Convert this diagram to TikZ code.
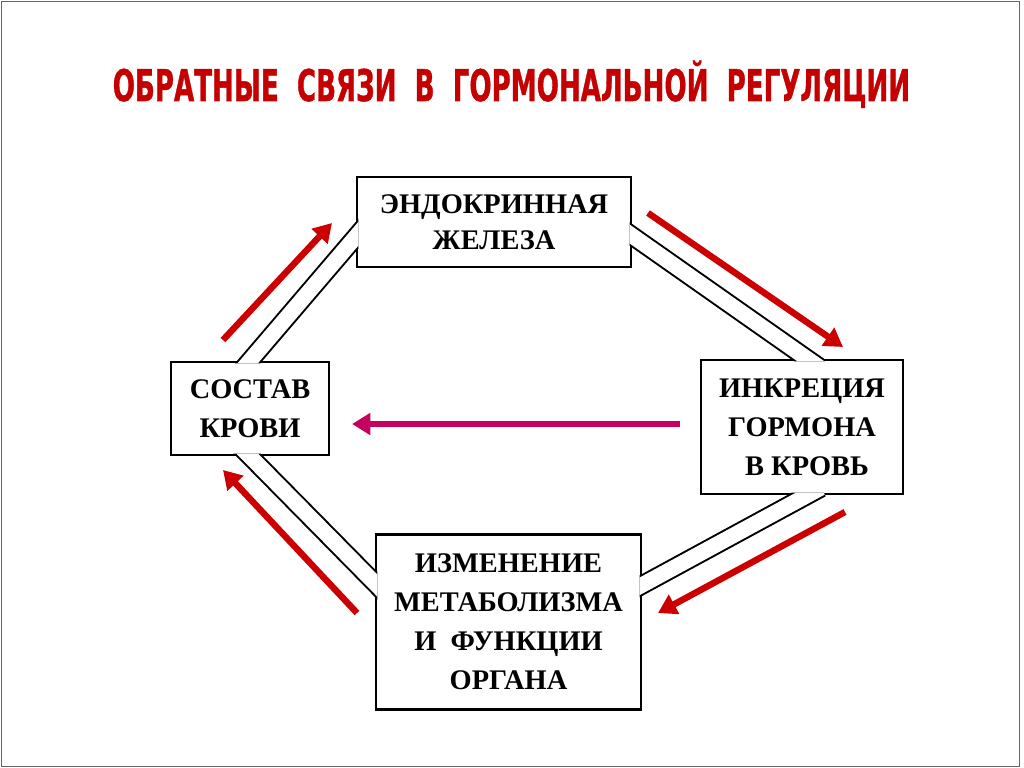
\documentclass[tikz,border=0pt]{standalone}
\usepackage{fontspec}
\setmainfont{Liberation Serif}
\newfontfamily\titlefont{DejaVu Sans}[BoldFeatures={FakeBold=1.2}]
\usepackage{graphicx}
\usetikzlibrary{calc,arrows.meta}
\definecolor{fbred}{RGB}{204,0,0}
\definecolor{fbmag}{RGB}{196,0,96}
\definecolor{ttlred}{RGB}{196,0,0}
\tikzset{
  blk/.style={rectangle,draw=black,line width=2pt,fill=white,inner sep=0pt,align=center,font=\fontsize{20.2}{27.8}\selectfont\bfseries},
  pipe/.style={draw=black,line width=1.4pt,double=white,double distance=11pt},
  fb/.style={-{Triangle[length=13pt,width=15pt]},line width=4.6pt,fbred},
  fbh/.style={fb,fbmag},
  ttl/.style={anchor=base,text=ttlred,font=\titlefont\bfseries\fontsize{31}{31}\selectfont},
}
\newcommand{\boxhole}[1]{([shift={(-2pt,-2pt)}]#1.north east) rectangle ([shift={(2pt,2pt)}]#1.south west)}
\begin{document}
\begin{tikzpicture}[x=0.025cm,y=-0.025cm]
  \useasboundingbox (0,0) rectangle (1024,768);
  \draw[black!60,line width=1.2pt] (1.5,1.5) rectangle (1019.5,766.5);
  \node[ttl] (title) at (511.5,101) {\resizebox{19.93cm}{\height}{ОБРАТНЫЕ\ \ СВЯЗИ\ \ В\ \ ГОРМОНАЛЬНОЙ\ \ РЕГУЛЯЦИИ}};
  % boxes
  \node[blk,minimum width=6.85cm,minimum height=2.25cm,font=\fontsize{20.2}{25.6}\selectfont\bfseries] (gland) at (494,222) {ЭНДОКРИННАЯ\\ЖЕЛЕЗА};
  \node[blk,minimum width=5.05cm,minimum height=3.35cm] (secr) at (802,427) {ИНКРЕЦИЯ\\ГОРМОНА\\\hspace*{0.25cm}В КРОВЬ};
  \node[blk,minimum width=3.95cm,minimum height=2.325cm] (blood) at (250,408.5) {СОСТАВ\\КРОВИ};
  \node[blk,minimum width=6.625cm,minimum height=4.375cm] (meta) at (508.5,622) {ИЗМЕНЕНИЕ\\МЕТАБОЛИЗМА\\И\ \ ФУНКЦИИ\\ОРГАНА};
  % double links, cut off at the inner edge of the boxes
  \coordinate (g1) at ([yshift=-0.375cm]gland.west);  \coordinate (b1) at (blood.north);
  \coordinate (g2) at ([yshift=-0.35cm]gland.east);   \coordinate (s1) at ([xshift=0.125cm]secr.north);
  \coordinate (s2) at ([xshift=0.125cm]secr.south);   \coordinate (m1) at ([yshift=0.93cm]meta.east);
  \coordinate (b2) at (blood.south);                  \coordinate (m2) at ([yshift=0.98cm]meta.west);
  \begin{scope}
    \clip (0,0) rectangle (1024,768) \boxhole{gland} \boxhole{secr} \boxhole{blood} \boxhole{meta};
    \foreach \p/\q in {g1/b1, g2/s1, s2/m1, b2/m2}{
      \draw[pipe] ($(\p)!-0.4cm!(\q)$) -- ($(\q)!-0.4cm!(\p)$);}
  \end{scope}
  % feedback arrows
  \coordinate (a1s) at (223,340); \coordinate (a1e) at (332,223);
  \coordinate (a2s) at (648,213); \coordinate (a2e) at (843,347);
  \coordinate (a3s) at (845,512); \coordinate (a3e) at (658,613);
  \coordinate (a4s) at (357,613); \coordinate (a4e) at (223,470);
  \coordinate (a5s) at (680,424); \coordinate (a5e) at (352,424);
  \draw[fb] (a1s) -- (a1e);
  \draw[fb] (a2s) -- (a2e);
  \draw[fb] (a3s) -- (a3e);
  \draw[fb] (a4s) -- (a4e);
  \draw[fbh] (a5s) -- (a5e);
\end{tikzpicture}
\end{document}
